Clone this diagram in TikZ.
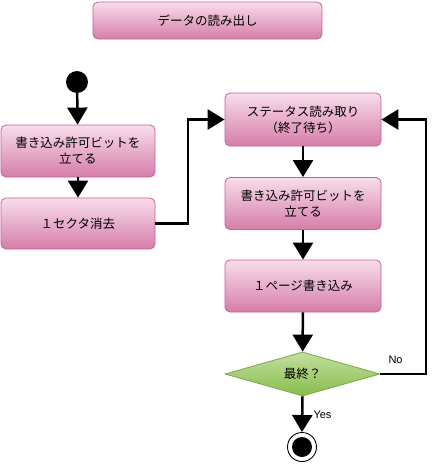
\documentclass[tikz,border=0pt]{standalone}
\usepackage{fontspec}
\setmainfont{Liberation Sans}
\newfontfamily\jpfont{Noto Sans CJK JP}
\usetikzlibrary{arrows.meta,shapes.geometric}
\definecolor{pinktop}{HTML}{F8DDEB}
\definecolor{pinkbot}{HTML}{D67DA9}
\definecolor{pinkline}{HTML}{C4609A}
\definecolor{greentop}{HTML}{C2E0A0}
\definecolor{greenbot}{HTML}{88BC4C}
\definecolor{greenline}{HTML}{78A84A}
\tikzset{
  act/.style={draw=pinkline, line width=0.8pt, rounded corners=5pt, top color=pinktop, bottom color=pinkbot,
    minimum width=155pt, minimum height=52pt, align=center, font=\jpfont\fontsize{12.5}{16}\selectfont, inner sep=0pt},
  dec/.style={diamond, draw=greenline, line width=0.8pt, top color=greentop, bottom color=greenbot,
    minimum width=155pt, minimum height=44pt, aspect=3.5, inner sep=0pt, font=\jpfont\fontsize{12.5}{16}\selectfont},
  flow/.style={line width=2.5pt, -{Triangle[width=20pt,length=17pt]}},
  lbl/.style={font=\fontsize{11}{13}\selectfont}
}
\begin{document}
\begin{tikzpicture}[x=1pt,y=-1pt]
\useasboundingbox (0,0) rectangle (432,464);
\node[act, minimum width=229pt, minimum height=37pt] (title) at (207.5,20.5) {データの読み出し};
\fill (77,82) circle (11pt) coordinate (start);
\node[circle, minimum size=22pt, inner sep=0pt] (startn) at (77,82) {};
\node[act, minimum width=154pt] (b1) at (78,151) {書き込み許可ビットを\\立てる};
\node[act, minimum width=154pt, minimum height=51pt] (b2) at (78,223.5) {１セクタ消去};
\node[act, minimum width=156pt, minimum height=53pt] (b3) at (303,119.5) {ステータス読み取り\\（終了待ち）};
\node[act, minimum width=156pt] (b4) at (303,203.5) {書き込み許可ビットを\\立てる};
\node[act, minimum width=156pt] (b5) at (303,286) {１ページ書き込み};
\node[dec, minimum width=155pt, minimum height=44pt] (d) at (302.5,374) {最終？};
\node[circle, draw, line width=0.9pt, minimum size=29pt, inner sep=0pt] (end) at (302,447) {};
\fill (302,447) circle (10pt);
\draw[flow] (startn) -- (b1);
\draw[flow] (b1) -- (b2);
\draw[flow] (b2.east) -- (188,223.5) |- (b3.west);
\draw[flow] (b3) -- (b4);
\draw[flow] (b4) -- (b5);
\draw[flow] (b5) -- (d);
\draw[flow] (d.south) -- (end.north);
\draw[flow] (d.east) -- (426,374) |- (b3.east);
\node[lbl, anchor=west] (no) at (385,360) {No};
\node[lbl, anchor=west] (yes) at (310,415) {Yes};
\end{tikzpicture}
\end{document}
